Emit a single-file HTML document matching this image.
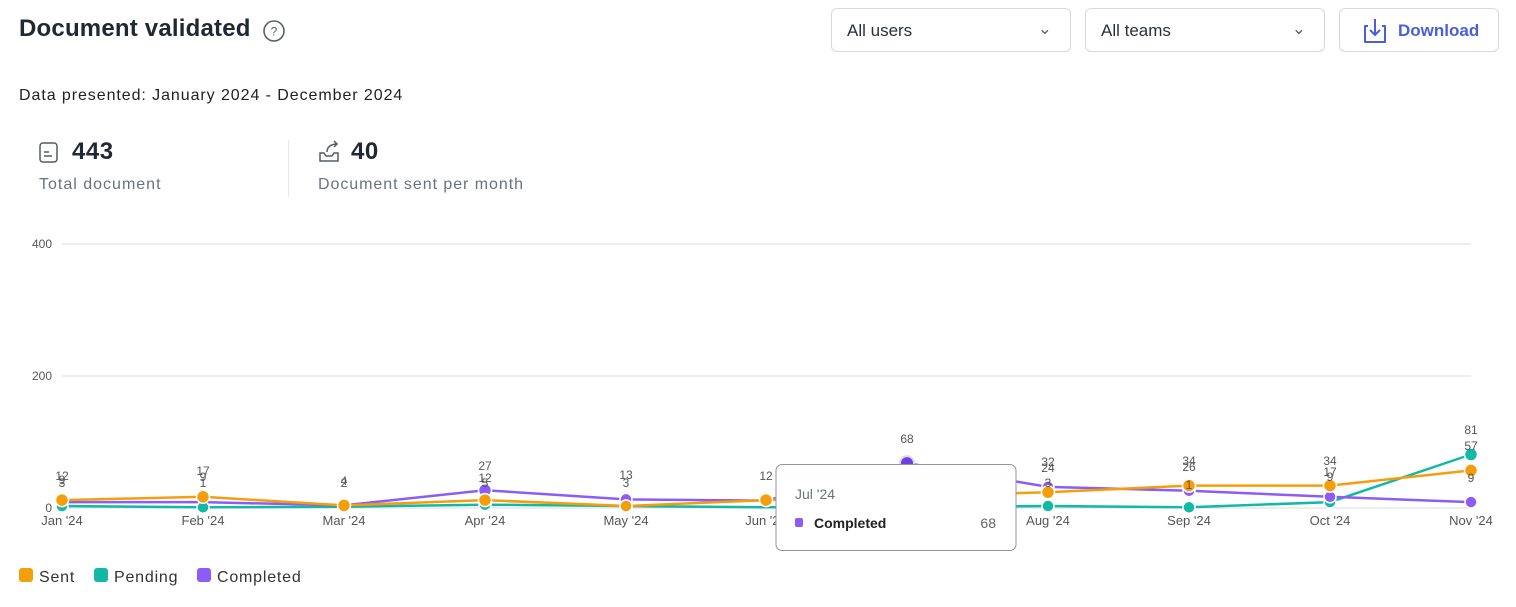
<!DOCTYPE html>
<html><head><meta charset="utf-8"><style>
body{margin:0;width:1516px;height:607px;background:#fff;font-family:"Liberation Sans",sans-serif;color:#1f2430;position:relative;overflow:hidden}
.a{position:absolute}
.sel{position:absolute;top:8px;height:44px;border:1px solid #d6d9e0;border-radius:6px;box-sizing:border-box;font-size:17px;color:#2a2f3a;padding:12px 15px}
</style></head><body>
<div class="a" style="left:19px;top:15px;font-size:24px;font-weight:bold;color:#222833;letter-spacing:0.2px">Document validated</div>
<svg class="a" style="left:262px;top:19px" width="24" height="24"><circle cx="12" cy="12" r="10" fill="none" stroke="#5a606c" stroke-width="1.6"/><text x="12" y="16.5" font-size="12" text-anchor="middle" fill="#5a606c" font-family="Liberation Sans">?</text></svg>
<div class="sel" style="left:831px;width:240px">All users<span style="position:absolute;right:18px;top:10px;color:#666">&#8964;</span></div>
<div class="sel" style="left:1085px;width:240px">All teams<span style="position:absolute;right:18px;top:10px;color:#666">&#8964;</span></div>
<div class="sel" style="left:1339px;width:160px;color:#4a5fd6;font-weight:bold;padding-left:58px">Download</div>
<svg class="a" style="left:1360px;top:16px" width="30" height="30"><path d="M8 10 H5 V26 H25 V10 H22" fill="none" stroke="#4a5fd6" stroke-width="2" stroke-linejoin="round"/><path d="M15 3 V19 M10 14 L15 19 L20 14" fill="none" stroke="#4a5fd6" stroke-width="2"/></svg>
<div class="a" style="left:19px;top:87px;font-size:16px;color:#222;letter-spacing:0.93px">Data presented: January 2024 - December 2024</div>
<svg class="a" style="left:38px;top:141px" width="22" height="22"><rect x="2" y="2" width="17" height="19" rx="3" fill="none" stroke="#555b66" stroke-width="1.5"/><path d="M6 11h5M6 15h8" stroke="#555b66" stroke-width="1.5"/></svg>
<div class="a" style="left:72px;top:138px;font-size:24px;font-weight:bold;color:#222833;letter-spacing:0.5px">443</div>
<div class="a" style="left:39px;top:176px;font-size:16px;color:#6b7180;letter-spacing:1px">Total document</div>
<div class="a" style="left:288px;top:140px;width:1px;height:57px;background:#e6e8ec"></div>
<svg class="a" style="left:317px;top:140px" width="26" height="24"><path d="M3 13v8h18v-8h-4l-2 3h-6l-2-3z" fill="none" stroke="#555b66" stroke-width="1.5"/><path d="M10 12c0-5 4-8 10-8M17 1l3 3-3 3" fill="none" stroke="#555b66" stroke-width="1.5"/></svg>
<div class="a" style="left:351px;top:138px;font-size:24px;font-weight:bold;color:#222833;letter-spacing:0.5px">40</div>
<div class="a" style="left:318px;top:176px;font-size:16px;color:#6b7180;letter-spacing:0.95px">Document sent per month</div>

<svg class="a" style="left:0;top:0" width="1516" height="607" font-family="Liberation Sans">
<g stroke="#d9dbe3" stroke-width="1"><line x1="62" y1="244" x2="1471" y2="244"/><line x1="62" y1="376" x2="1471" y2="376"/><line x1="62" y1="508" x2="1471" y2="508"/></g>
<g font-size="12" fill="#555" text-anchor="end"><text x="52" y="248">400</text><text x="52" y="380">200</text><text x="52" y="512">0</text></g>
<g font-size="13" fill="#555" text-anchor="middle">
<text x="62" y="525">Jan '24</text><text x="203" y="525">Feb '24</text><text x="344" y="525">Mar '24</text><text x="485" y="525">Apr '24</text><text x="626" y="525">May '24</text><text x="766" y="525">Jun '24</text><text x="1048" y="525">Aug '24</text><text x="1189" y="525">Sep '24</text><text x="1330" y="525">Oct '24</text><text x="1471" y="525">Nov '24</text></g>
<polyline fill="none" stroke="#14b8a6" stroke-width="2.5" points="62,506 203,507.3 344,506.7 485,504.7 626,506 766,507.3 907,507.3 1048,506 1189,507.3 1330,502.1 1471,454.5"/>
<polyline fill="none" stroke="#8b5cf6" stroke-width="2.5" points="62,502.1 203,502.1 344,505.4 485,490.2 626,499.4 766,500.7 907,463.1 1048,486.9 1189,490.8 1330,496.8 1471,502.1"/>
<polyline fill="none" stroke="#f59e0b" stroke-width="2.5" points="62,500.1 203,496.8 344,505.4 485,500.1 626,506 766,500.1 907,496.1 1048,492.2 1189,485.6 1330,485.6 1471,470.4"/>
<g stroke="#fff" stroke-width="1.5">
<g fill="#14b8a6"><circle cx="62" cy="506" r="6"/><circle cx="203" cy="507.3" r="6"/><circle cx="485" cy="504.7" r="6"/><circle cx="1048" cy="506" r="6"/><circle cx="1189" cy="507.3" r="6"/><circle cx="1330" cy="502.1" r="6"/><circle cx="1471" cy="454.5" r="6.5"/></g>
<g fill="#8b5cf6"><circle cx="485" cy="490.2" r="6.5"/><circle cx="626" cy="499.4" r="6"/><circle cx="1048" cy="486.9" r="6"/><circle cx="1189" cy="490.8" r="6"/><circle cx="1330" cy="496.8" r="6"/><circle cx="1471" cy="502.1" r="6"/></g>
<circle cx="907" cy="463.1" r="7" fill="#6d3ee8" stroke="#ddd" stroke-width="2"/>
<g fill="#f59e0b"><circle cx="62" cy="500.1" r="6.5"/><circle cx="203" cy="496.8" r="6.5"/><circle cx="344" cy="505.4" r="6.5"/><circle cx="485" cy="500.1" r="6.5"/><circle cx="626" cy="506" r="6"/><circle cx="766" cy="500.1" r="6.5"/><circle cx="1048" cy="492.2" r="6.5"/><circle cx="1189" cy="485.6" r="6.5"/><circle cx="1330" cy="485.6" r="6.5"/><circle cx="1471" cy="470.4" r="6.5"/></g>
</g>
<g font-size="12" fill="#555" text-anchor="middle">
<text x="62" y="480">12</text><text x="62" y="484">9</text><text x="62" y="487">3</text>
<text x="203" y="475">17</text><text x="203" y="481">9</text><text x="203" y="487">1</text>
<text x="344" y="485">4</text><text x="344" y="487">2</text>
<text x="485" y="470">27</text><text x="485" y="482">12</text><text x="485" y="487">5</text>
<text x="626" y="479">13</text><text x="626" y="487">3</text>
<text x="766" y="480">12</text>
<text x="907" y="443">68</text>
<text x="1048" y="466">32</text><text x="1048" y="472">24</text><text x="1048" y="487">3</text>
<text x="1189" y="465">34</text><text x="1189" y="471">26</text><text x="1189" y="489">1</text>
<text x="1330" y="465">34</text><text x="1330" y="476">17</text><text x="1330" y="481">9</text>
<text x="1471" y="434">81</text><text x="1471" y="450">57</text><text x="1471" y="482">9</text>
</g>
<rect x="776" y="464.5" width="240" height="86" rx="6" fill="#fff" stroke="#8f96a3" stroke-width="1"/>
<text x="795" y="499" font-size="14" fill="#6b7180">Jul '24</text>
<rect x="795" y="518" width="8" height="9" rx="2" fill="#8b5cf6"/>
<text x="814" y="528" font-size="14" font-weight="bold" fill="#222">Completed</text>
<text x="996" y="528" font-size="14" fill="#666" text-anchor="end">68</text>
<g font-size="16" fill="#333" letter-spacing="0.8">
<rect x="19" y="568" width="14" height="14" rx="3" fill="#f59e0b"/><text x="39" y="582">Sent</text>
<rect x="94" y="568" width="14" height="14" rx="3" fill="#14b8a6"/><text x="114" y="582">Pending</text>
<rect x="197" y="568" width="14" height="14" rx="3" fill="#8b5cf6"/><text x="217" y="582">Completed</text>
</g>
</svg>
</body></html>
